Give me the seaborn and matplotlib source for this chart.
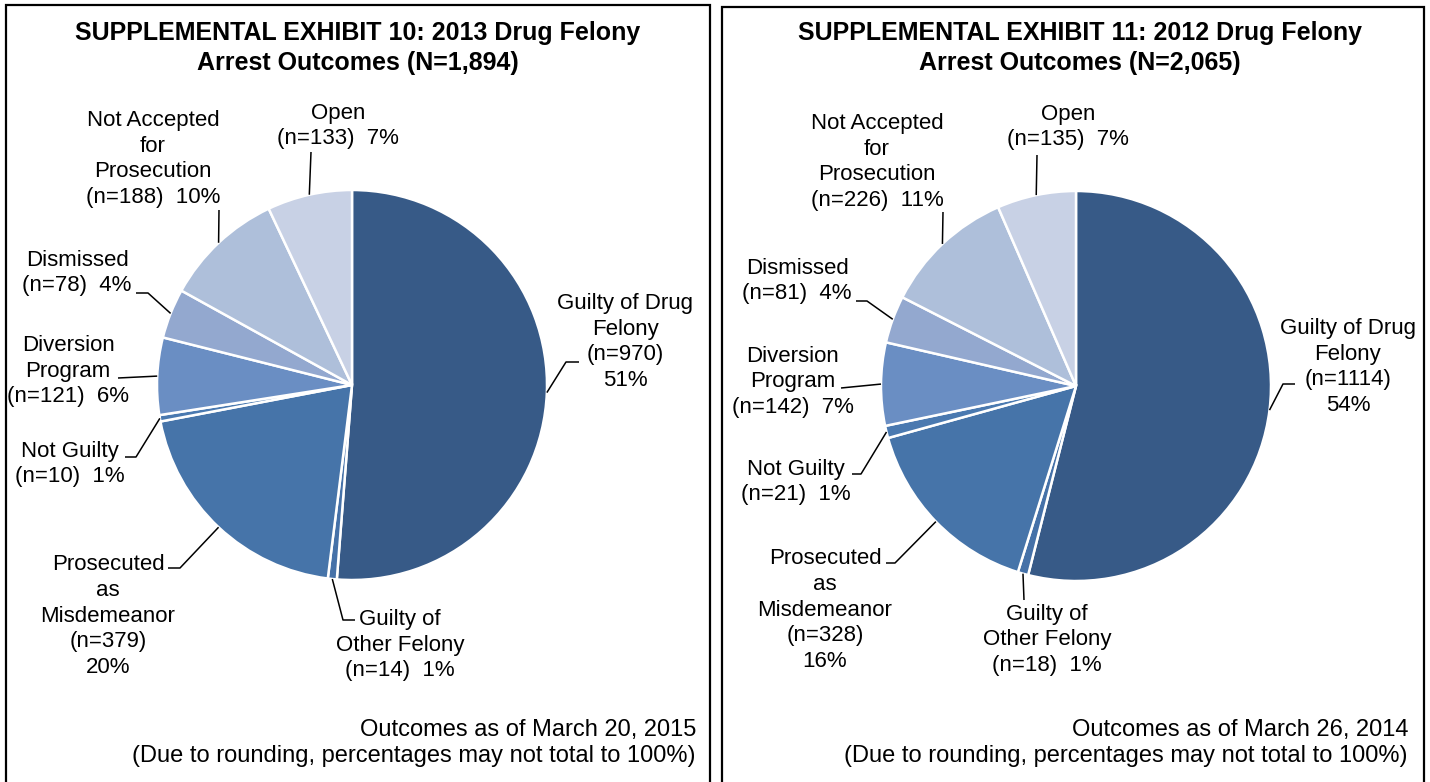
import numpy as np
import matplotlib
matplotlib.use("Agg")
import matplotlib.pyplot as plt
from matplotlib.patches import Rectangle
import seaborn as sns

# ---------------- data ----------------
categories = ["Guilty of Drug Felony", "Guilty of Other Felony",
              "Prosecuted as Misdemeanor", "Not Guilty", "Diversion Program",
              "Dismissed", "Not Accepted for Prosecution", "Open"]
counts_2013 = [970, 14, 379, 10, 121, 78, 188, 133]
pcts_2013 = [51, 1, 20, 1, 6, 4, 10, 7]
counts_2012 = [1114, 18, 328, 21, 142, 81, 226, 135]
pcts_2012 = [54, 1, 16, 1, 7, 4, 11, 7]
label_templates = [
    "Guilty of Drug\nFelony\n(n={n})\n{p}%",
    "Guilty of\nOther Felony\n(n={n})  {p}%",
    "Prosecuted\nas\nMisdemeanor\n(n={n})\n{p}%",
    "Not Guilty\n(n={n})  {p}%",
    "Diversion\nProgram\n(n={n})  {p}%",
    "Dismissed\n(n={n})  {p}%",
    "Not Accepted\nfor\nProsecution\n(n={n})  {p}%",
    "Open\n(n={n})  {p}%",
]
titles = ["SUPPLEMENTAL EXHIBIT 10: 2013 Drug Felony\nArrest Outcomes (N=1,894)",
          "SUPPLEMENTAL EXHIBIT 11: 2012 Drug Felony\nArrest Outcomes (N=2,065)"]
footers = ["Outcomes as of March 20, 2015\n(Due to rounding, percentages may not total to 100%)",
           "Outcomes as of March 26, 2014\n(Due to rounding, percentages may not total to 100%)"]
slice_colors = ["#375A87", "#4571A8", "#4674A9", "#4A79B0",
                "#6A8EC3", "#93A8CF", "#AEBFDA", "#C8D1E5"]

# ---------------- layout (pixel space, y downward) ----------------
W, H = 1430, 782
panels = [
    dict(counts=counts_2013, pcts=pcts_2013, center=(352, 385), r=195,
         box=(6, 5, 710), title_x=358, title_y=48, foot_x=696, foot_y=743,
         labels=[  # (text x, text y, elbow, end)
             (625, 342, (566, 362), (579, 362)),
             (400, 645, (343, 620), (355, 620)),
             (108, 616, (180, 568), (168, 568)),
             (70, 464, (136, 457), (125, 457)),
             (68, 371, (118, 378), (118, 378)),
             (77, 273, (148, 293), (136, 293)),
             (153, 159, (219, 210), (219, 210)),
             (338, 126, (311, 152), (311, 152)),
         ]),
    dict(counts=counts_2012, pcts=pcts_2012, center=(1076, 386), r=195,
         box=(722, 7, 1424), title_x=1080, title_y=48, foot_x=1408, foot_y=743,
         labels=[
             (1348, 367, (1283, 384), (1295, 384)),
             (1047, 640, (1024, 600), (1024, 600)),
             (825, 610, (895, 563), (886, 563)),
             (796, 482, (861, 474), (852, 474)),
             (793, 382, (841, 388), (841, 388)),
             (797, 281, (867, 301), (856, 301)),
             (877, 162, (943, 212), (943, 212)),
             (1068, 127, (1037, 155), (1037, 155)),
         ]),
]

sns.set_theme(style="white")
plt.rcParams["font.family"] = ["Liberation Sans", "DejaVu Sans"]

fig = plt.figure(figsize=(W / 100, H / 100), dpi=100)
ax = fig.add_axes([0, 0, 1, 1])
pal = sns.color_palette(slice_colors)

for i, pnl in enumerate(panels):
    cx, cy = pnl["center"]
    r = pnl["r"]
    wedges, _ = ax.pie(pnl["counts"], center=(cx, H - cy), radius=r,
                       startangle=90, counterclock=False, colors=pal,
                       wedgeprops=dict(edgecolor="white", linewidth=1.8))
    for w, tmpl, n, p, (tx, ty, elbow, end) in zip(
            wedges, label_templates, pnl["counts"], pnl["pcts"], pnl["labels"]):
        th = np.deg2rad((w.theta1 + w.theta2) / 2)
        ex, ey = cx + r * np.cos(th), (H - cy) + r * np.sin(th)
        ax.plot([ex, elbow[0], end[0]], [ey, H - elbow[1], H - end[1]],
                color="black", lw=1.1, solid_capstyle="butt")
        ax.text(tx, H - ty, tmpl.format(n=n, p=p), ha="center", va="center",
                fontsize=16, linespacing=1.3, color="black")
    ax.text(pnl["title_x"], H - pnl["title_y"], titles[i],
            ha="center", va="center", fontsize=18, fontweight="bold",
            linespacing=1.27, color="black")
    ax.text(pnl["foot_x"], H - pnl["foot_y"], footers[i],
            ha="right", va="center", fontsize=17, linespacing=1.24, color="black")
    bx0, by0, bx1 = pnl["box"]
    ax.add_patch(Rectangle((bx0, -20), bx1 - bx0, H - by0 + 20, fill=False,
                           edgecolor="black", lw=1.6, clip_on=False))

ax.set_xlim(0, W)
ax.set_ylim(0, H)
ax.set_aspect("auto")
ax.axis("off")
fig.savefig("out.png", dpi=100, facecolor="white")
